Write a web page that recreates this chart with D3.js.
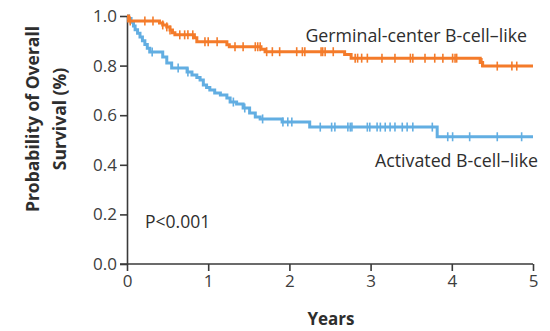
<!DOCTYPE html>
<html>
<head>
<meta charset="utf-8">
<script src="https://cdn.jsdelivr.net/npm/d3@7"></script>
<style>
  html, body { margin: 0; padding: 0; background: #fff; }
  svg { display: block; font-family: "Open Sans", "Noto Sans", sans-serif; }
</style>
</head>
<body>
<svg id="chart" width="550" height="331"></svg>
<script>
// Kaplan-Meier steps: time of each drop (years) and the survival after it
const gcbTimes = [0.02, 0.40, 0.44, 0.49, 0.53, 0.56, 0.59, 0.83, 0.86, 1.23, 1.26, 1.65, 1.70, 2.68, 2.76, 4.35, 4.38];
const gcbSurv  = [0.98, 0.972, 0.964, 0.956, 0.944, 0.932, 0.924, 0.912, 0.896, 0.884, 0.876, 0.866, 0.856, 0.845, 0.83, 0.812, 0.798];
const gcbCensor = [0.04, 0.22, 0.32, 0.44, 0.49, 0.53, 0.65, 0.71, 0.75, 0.81, 0.96, 1.0, 1.11, 1.33, 1.43, 1.58, 1.61,
  1.64, 1.72, 1.79, 1.88, 2.09, 2.16, 2.19, 2.39, 2.41, 2.44, 2.54, 2.81, 2.84, 2.89, 2.96, 3.14, 3.30, 3.49, 3.52,
  3.67, 3.79, 3.89, 4.01, 4.04, 4.06, 4.37, 4.56, 4.74, 4.80];

const abcTimes = [0.02, 0.05, 0.08, 0.10, 0.13, 0.16, 0.19, 0.22, 0.25, 0.28, 0.44, 0.49, 0.55, 0.74, 0.80, 0.86, 0.90,
  0.94, 0.98, 1.02, 1.08, 1.15, 1.23, 1.27, 1.35, 1.43, 1.51, 1.58, 1.64, 1.91, 2.25, 3.82];
const abcSurv  = [0.99, 0.975, 0.96, 0.945, 0.93, 0.915, 0.9, 0.885, 0.87, 0.855, 0.835, 0.81, 0.79, 0.774, 0.762, 0.752, 0.742,
  0.722, 0.712, 0.702, 0.69, 0.681, 0.669, 0.653, 0.645, 0.629, 0.609, 0.593, 0.585, 0.573, 0.552, 0.513];
const abcCensor = [0.31, 0.63, 0.75, 1.31, 1.45, 1.67, 1.92, 1.98, 2.03, 2.38, 2.52, 2.56, 2.72, 2.75, 2.77, 2.96, 2.99,
  3.08, 3.12, 3.18, 3.24, 3.30, 3.39, 3.45, 3.52, 3.76, 3.95, 4.01, 4.22, 4.56, 4.86];

const xTicks = [0, 1, 2, 3, 4, 5];
const yTicks = [0, 0.2, 0.4, 0.6, 0.8, 1.0];
const seriesNames = ["Germinal-center B-cell\u2013like", "Activated B-cell\u2013like"];

const svg = d3.select("#chart");
const plotLeft = 127, plotRight = 533, plotTop = 16, plotBottom = 264;

const x = d3.scaleLinear().domain([0, 5]).range([plotLeft, plotRight]);
const y = d3.scaleLinear().domain([0, 1]).range([plotBottom, plotTop]);

const axisColor = "#3a3a3a";
const textColor = "#2e2e2e";

// axes
const xAxis = svg.append("g")
  .attr("transform", `translate(0,${plotBottom})`)
  .call(d3.axisBottom(x).tickValues(xTicks).tickFormat(d3.format("d")).tickSize(7).tickSizeOuter(0).tickPadding(4));
const yAxis = svg.append("g")
  .attr("transform", `translate(${plotLeft},0)`)
  .call(d3.axisLeft(y).tickValues(yTicks).tickFormat(d3.format(".1f")).tickSize(7).tickSizeOuter(0).tickPadding(3));

[xAxis, yAxis].forEach(g => {
  g.select(".domain").attr("stroke", axisColor).attr("stroke-width", 1.6);
  g.selectAll(".tick line").attr("stroke", axisColor).attr("stroke-width", 1.6);
  g.selectAll(".tick text").attr("fill", "#3d3d3d").attr("font-size", 17)
    .attr("font-family", "'Open Sans', 'Noto Sans', sans-serif");
});
xAxis.select(".domain").attr("d", `M${plotLeft - 7},0H${plotRight}`);

function stepData(times, surv) {
  const pts = [[0, 1]];
  times.forEach((t, i) => pts.push([t, surv[i]]));
  pts.push([5, surv[surv.length - 1]]);
  return pts;
}
function survAt(times, surv, t) {
  let s = 1;
  times.forEach((tt, i) => { if (tt <= t) s = surv[i]; });
  return s;
}

const line = d3.line().x(d => x(d[0])).y(d => y(d[1])).curve(d3.curveStepAfter);

function drawSeries(times, surv, censor, color) {
  svg.append("path")
    .datum(stepData(times, surv))
    .attr("fill", "none")
    .attr("stroke", color)
    .attr("stroke-width", 3)
    .attr("d", line);
  svg.append("g").selectAll("line")
    .data(censor)
    .join("line")
    .attr("x1", d => x(d)).attr("x2", d => x(d))
    .attr("y1", d => y(survAt(times, surv, d)) - 4.5)
    .attr("y2", d => y(survAt(times, surv, d)) + 4.5)
    .attr("stroke", color)
    .attr("stroke-width", 1.6);
}

drawSeries(abcTimes, abcSurv, abcCensor, "#62aee2");
drawSeries(gcbTimes, gcbSurv, gcbCensor, "#f47b2a");

// labels
svg.append("text").attr("x", 527).attr("y", 42).attr("text-anchor", "end")
  .attr("font-size", 17.8).attr("fill", textColor).text(seriesNames[0]);
svg.append("text").attr("x", 538).attr("y", 167).attr("text-anchor", "end")
  .attr("font-size", 17.8).attr("fill", textColor).text(seriesNames[1]);
svg.append("text").attr("x", 145).attr("y", 228)
  .attr("font-size", 17.5).attr("fill", textColor).text("P<0.001");

svg.append("text").attr("x", 331).attr("y", 325).attr("text-anchor", "middle")
  .attr("font-size", 17).attr("font-weight", "bold").attr("fill", textColor).text("Years");

const yt = svg.append("text").attr("transform", "translate(39,119) rotate(-90)")
  .attr("text-anchor", "middle").attr("font-size", 17.5).attr("font-weight", "bold").attr("fill", textColor);
yt.append("tspan").attr("x", 0).attr("y", 0).text("Probability of Overall");
yt.append("tspan").attr("x", 0).attr("y", 27).text("Survival (%)");
</script>
</body>
</html>
